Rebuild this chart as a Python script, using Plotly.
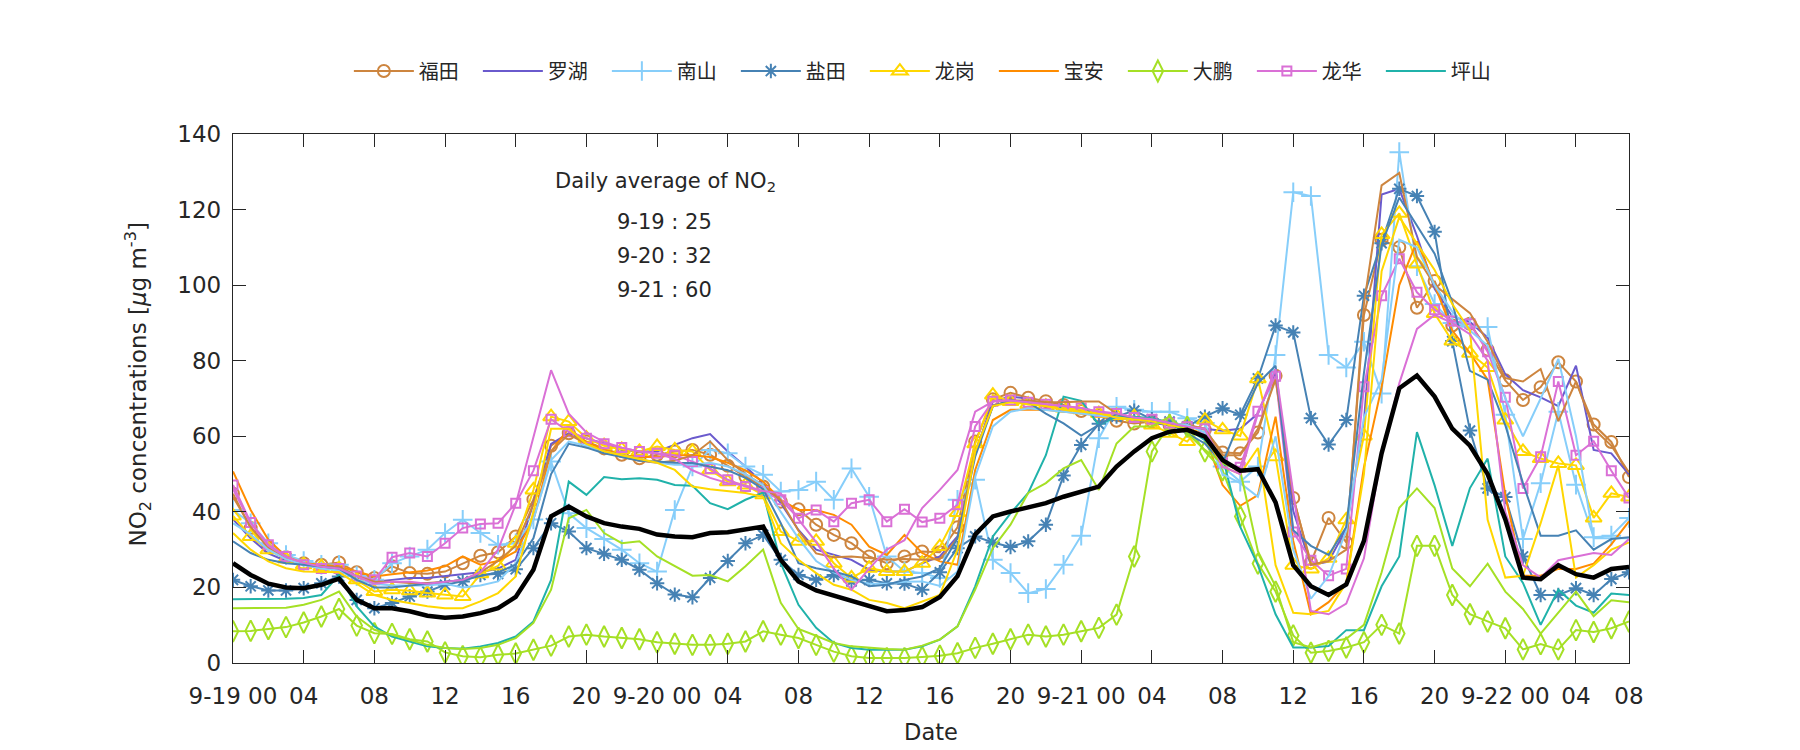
import plotly.graph_objects as go

# ---------------- data (hourly, 9-19 00:00 ... 9-22 07:00) ----------------
futian = [44.8, 35.7, 30.8, 28.0, 26.4, 26.0, 26.6, 24.0, 22.5, 25.6,
          23.8, 23.6, 24.2, 26.4, 28.4, 29.3, 33.5, 43.3, 57.5, 60.8,
          58.6, 56.8, 55.1, 54.2, 55.1, 56.0, 56.4, 55.1, 52.2, 49.3,
          46.7, 42.7, 40.7, 36.6, 33.9, 31.7, 28.2, 26.4, 28.2, 29.5,
          29.3, 35.9, 58.6, 69.8, 71.5, 70.2, 69.3, 68.3, 66.7, 65.5,
          64.1, 63.4, 63.9, 63.0, 62.6, 61.7, 55.7, 55.5, 61.0, 76.0,
          43.7, 26.6, 38.4, 31.9, 92.1, 112.0, 110.0, 94.0, 101.1, 89.3,
          89.8, 82.9, 74.8, 69.6, 73.0, 79.6, 74.5, 63.1, 58.5, 49.2]
luohu = [38, 33, 29, 27, 26, 25.5, 25, 23, 21.5, 22,
         22.5, 22.5, 23, 23.5, 24, 25, 27.3, 42.3, 58, 60.8,
         59.5, 58.1, 56.4, 56, 56, 57.7, 59.5, 60.6, 56, 52,
         47.6, 42.3, 35.2, 30, 28.6, 27.3, 24.7, 24.2, 24.2, 26.4,
         28.2, 33.5, 55.5, 69.2, 70.5, 70, 68, 67.5, 67, 66,
         65, 64.5, 63.5, 63, 62.5, 62, 61.5, 62, 66, 77,
         40.2, 25.9, 26.8, 35.6, 63.9, 124, 125.5, 113, 99, 91.7,
         90.3, 86.1, 76.4, 72.2, 70.3, 68, 78.7, 56.4, 55.5, 49.9]
nanshan = [40.5, 37, 31.7, 28.6, 27, 26, 26, 23, 22, 26.4,
           28.2, 30, 34.4, 37.9, 34.4, 31.3, 31.7, 38, 53.3, 39.6,
           35.7, 32.8, 30, 26.4, 24.2, 40.5, 52, 56.4, 55.5, 52,
           49.8, 45.4, 45.8, 48, 43.2, 51.5, 44, 28.2, 24.2, 23.8,
           22.5, 43.2, 48.5, 27.3, 23.8, 18.5, 19.6, 26, 33.7, 59.5,
           67.8, 67, 66.5, 66.5, 64.8, 63.5, 52, 48, 52, 81.5,
           124.6, 123.6, 81.5, 78.2, 85, 71.3, 135.2, 105, 95, 90,
           89, 88.9, 65.7, 32.8, 47.6, 66.5, 47.2, 33.3, 33.7, 38.4]
yantian = [22, 20.3, 19.2, 19.2, 19.8, 21.1, 22.9, 16.7, 14.5, 15.9,
           17.6, 18.9, 20.7, 21.6, 23.3, 23.6, 24.8, 30.4, 37, 34.8,
           30.4, 28.9, 27.3, 24.7, 21.1, 18.1, 17.4, 22.5, 27, 31.7,
           33.9, 27.3, 23.3, 22, 23.3, 21.6, 22, 21.1, 21, 19.4,
           24, 30.4, 33.5, 31.9, 30.7, 32.2, 36.6, 49.6, 57.7, 63.3,
           65.2, 66.8, 64.5, 63.9, 62.6, 65.2, 67.4, 65.7, 75.3, 89.3,
           87.5, 64.8, 57.8, 64.3, 97.2, 111.1, 125.5, 123.6, 114.1, 85.2,
           61.5, 46.2, 43.9, 28.2, 18, 18, 19.8, 18, 22.2, 24]
longgang = [38.9, 33.5, 30, 27.5, 26, 25.5, 25, 22, 18.9, 19.4,
            19.1, 18.5, 18, 17.6, 23.6, 25.7, 31.7, 45.8, 65.2, 63.9,
            59.5, 57.5, 56.5, 56, 57.3, 56.4, 56, 51.1, 48, 47.1,
            44.5, 34.8, 32.2, 32.2, 26.4, 22.5, 25.1, 24.2, 24.2, 26.4,
            30.8, 39.8, 58, 70.9, 69.2, 68.5, 68, 67.5, 67, 66,
            65.5, 65.2, 63, 60.8, 58.6, 64.3, 61.7, 60.1, 75.2, 54.6,
            25.9, 24.9, 27.7, 37.9, 60.1, 113.4, 119, 105.6, 92.5, 85.2,
            82, 78.2, 64.3, 56, 54.1, 52.8, 52.3, 38.4, 44.9, 43.9]
baoan = [50.7, 40.5, 32.6, 28.2, 26.4, 26, 25.6, 24.2, 22.9, 23.5,
         24, 24.5, 25.6, 28.2, 26, 27, 29.5, 38, 56, 62.1,
         58.5, 56.5, 55, 54.5, 54.5, 55, 55, 54.5, 53, 51,
         48, 43.2, 40.5, 40.5, 39.2, 36.6, 30.8, 28.6, 33.9, 29.1,
         26.9, 26, 51.1, 64.3, 67, 67.1, 67, 66.5, 66, 65.5,
         65, 64.5, 64, 63.5, 62.5, 60, 47.1, 41.6, 44.4, 65.2,
         32.3, 12.9, 16.1, 21.2, 51.8, 73, 100, 111.6, 100, 88,
         82, 75, 44.4, 23.1, 23.1, 24.9, 24.9, 26.3, 31.4, 37.5]
dapeng = [8.4, 8.5, 9, 9.5, 10.7, 12.3, 14.3, 9.9, 7.9, 7.7,
          6.3, 5.7, 2.8, 1.8, 1.5, 2.2, 2.5, 3.5, 4.6, 7,
          7.5, 7, 6.6, 6.3, 5.5, 5.1, 4.8, 4.8, 5.1, 5.7,
          8.4, 7.5, 6.6, 4.8, 3, 1.8, 1.3, 1.3, 1.3, 1.6,
          1.9, 2.6, 4, 5.1, 6.3, 7.5, 7, 7.5, 8.4, 9.3,
          12.8, 28.2, 56, 63, 62.5, 56, 51, 38.8, 26.3, 18.9,
          7.3, 2.7, 3.2, 4.1, 5.5, 10.1, 7.8, 31, 31, 18,
          12.9, 11, 9.2, 3.6, 5, 3.6, 8.7, 8.2, 9.2, 11]
longhua = [47.1, 37.2, 31.3, 28.2, 26, 25, 25, 23, 22, 28,
           29.1, 28.2, 31.7, 35.7, 36.8, 37, 42.3, 50.9, 64.5, 61.2,
           59.5, 58, 57, 56, 55.5, 55, 53.3, 51.5, 48.5, 46.7,
           45.4, 43.2, 38.3, 40.5, 37.4, 42.3, 43.2, 37.4, 40.7, 37.3,
           38.3, 41.9, 62.6, 69.3, 69.6, 69, 68.5, 68, 67.5, 66.5,
           66, 65, 64.5, 63.5, 62.5, 62, 53, 51.8, 66.6, 75.9,
           34.7, 27.2, 23.1, 24.9, 73.1, 97.2, 107, 98.1, 93.5, 90.5,
           89.8, 82.4, 70.3, 46.2, 54.6, 74.5, 55, 58.7, 50.9, 43.7]
pingshan = [16.9, 16.9, 16.9, 17, 17.2, 18, 23.3, 15, 9.7, 7,
            5.7, 4.4, 4, 3.8, 4.4, 5.3, 7, 11, 22, 48,
            44.5, 49.2, 48.6, 48.9, 48.5, 47.1, 46.9, 42.3, 40.7, 43.2,
            45.1, 26.4, 15.4, 9.3, 5.3, 4, 3.5, 3.5, 3.5, 4.4,
            6.2, 9.7, 20.3, 33.5, 39.6, 45, 55, 70.5, 69.4, 63,
            65.2, 65.2, 64.8, 63.4, 62.1, 59, 54.6, 36, 25.9, 12.9,
            4.1, 4.1, 4.5, 8.7, 8.7, 20.3, 28.2, 61.1, 47, 31,
            46.3, 54.1, 28.2, 21.2, 10.1, 19.4, 15.2, 13.3, 18.4, 18]

# second-site series of the same districts (drawn without markers, not in legend)
futian_b = [44, 36, 30.5, 27.5, 26, 25.5, 25.5, 23, 21.5, 21.5,
            21.2, 21.2, 21.5, 22, 24, 27, 31, 42, 56, 60.5,
            58, 56, 54.5, 53.5, 53, 53.5, 55, 58.6, 53.7, 50,
            47, 43, 35, 29, 28, 28.2, 27.8, 27.3, 27.5, 27.3,
            27.5, 33, 56, 68, 69.5, 69.5, 69, 69, 69.2, 69.2,
            66, 64.5, 64, 63.5, 63, 62, 55, 55, 62, 75,
            44, 26, 27, 30, 95, 126.4, 129.7, 107.4, 100, 96.3,
            92.6, 85, 75.4, 74.5, 77.8, 64, 74.5, 62, 57.5, 50.4]
nanshan_b = [37, 34, 30, 27.5, 26, 25, 24.5, 22, 21, 20.5,
             20.5, 20.5, 21, 20, 20.5, 21.6, 26.4, 38, 53.7, 58.6,
             57.5, 56, 55, 54, 53, 52.5, 52.5, 53, 52, 50,
             47, 40, 33, 27, 24, 22, 21, 21, 21.5, 21.6,
             20.4, 24.2, 49.3, 62.6, 66.5, 67.4, 67, 66.5, 66, 65.5,
             65, 64.5, 64, 63.5, 63, 61, 50, 47.6, 44, 60,
             30, 17, 23, 35, 65, 75, 112, 110, 100, 93,
             88, 84, 70, 60, 70, 80.5, 60, 33, 33, 33]
yantian_b = [32.2, 29.1, 27.3, 26.4, 26, 25.5, 25, 22, 20, 20,
             20.5, 21, 21.5, 22, 23, 24, 26, 33, 50, 58,
             57, 55.5, 54.5, 53.5, 53.3, 53, 52.9, 52, 51, 49,
             46, 37, 26.4, 25.1, 24.2, 22.9, 20.3, 20.7, 22, 22.9,
             25.1, 33, 54.6, 68, 69.5, 69, 66, 63.4, 60.2, 63,
             65.9, 64.5, 64, 63.5, 60.8, 58.1, 52.9, 64.3, 74, 78.7,
             35.1, 31, 28.6, 36, 76.8, 110.7, 123.2, 115.7, 108.3, 95.4,
             77.3, 75, 62.9, 47.6, 33.7, 33.7, 35.1, 30, 32.8, 33.3]
longgang_b = [34.4, 30, 26.9, 25.1, 24.2, 24, 24, 21, 18, 16.7,
              15.9, 15, 14.5, 14.5, 16.3, 18.5, 22.9, 40, 62, 62,
              58, 56, 55, 54, 53, 51.1, 46.7, 46, 45.5, 45,
              44, 31.7, 27.3, 23.8, 20.7, 19.4, 16.7, 15.9, 14.5, 16.3,
              18, 30, 56, 68, 69, 68.5, 68, 67, 66.5, 66,
              65, 64.5, 64, 63, 62, 60, 52, 50, 56.9, 25.9,
              13.3, 12.9, 13.8, 21.2, 50, 103.7, 118, 111, 104, 95,
              88, 37.9, 22.6, 23.1, 37, 52.3, 22.6, 25.9, 30, 31.9]
dapeng_b = [14.5, 14.5, 14.5, 14.6, 15.4, 16.7, 18.9, 12.3, 8.8, 7.5,
            6.3, 4.8, 4, 3.7, 4, 4.8, 6.6, 10.6, 19.4, 38.3,
            40.5, 34.4, 31.7, 32.2, 28.2, 25.6, 23.1, 23.3, 21.6, 25.6,
            30, 15.9, 9, 7.2, 5.3, 4.4, 4, 3.7, 3.5, 4.6,
            6.2, 9.7, 19.4, 30.4, 36.6, 45, 47.6, 51.5, 53.7, 45.8,
            58.1, 62.6, 62.6, 65.2, 60.8, 56.4, 52.9, 50.9, 29.6, 20.3,
            5.5, 4.1, 5.5, 6.4, 10.1, 24, 41.1, 46.2, 41, 25,
            20.3, 26.3, 18.9, 14.3, 7.8, 13.3, 18.9, 12.4, 16.6, 16.1]
longhua_b = [46, 37, 31, 28, 26.5, 25.5, 25, 23, 21, 21.5,
             21.5, 21, 21.5, 22, 24, 30, 42, 60, 77.5, 66,
             61, 58.5, 57, 56, 55.5, 54, 51, 49, 47.6, 47,
             45.5, 44.9, 38, 32, 25, 19.4, 25, 30, 32.5, 41,
             45.8, 51.1, 66.5, 69.2, 69.5, 69, 68.5, 68, 67.5, 66.5,
             66, 65, 64.5, 63.5, 62.5, 62, 52, 50, 66, 77.8,
             45, 13.8, 12.9, 15.7, 27.7, 55.5, 74, 88.4, 92.1, 90,
             87, 80, 40, 25.9, 22.6, 27.2, 28.2, 29.1, 28.6, 32.8]
average = [26.4, 23.3, 21, 20, 19.8, 20.7, 22.3, 16.7, 14.5, 14.5,
           13.7, 12.5, 12, 12.3, 13.2, 14.5, 17.5, 24.7, 38.8, 41.4,
           38.8, 37, 36.1, 35.5, 34, 33.5, 33.3, 34.4, 34.6, 35.2,
           36.1, 27.3, 21.6, 19.2, 17.8, 16.5, 15, 13.7, 14, 14.8,
           17.5, 23, 34, 38.8, 40.1, 41.2, 42.3, 44, 45.4, 46.7,
           52, 56, 59.5, 61.2, 61.7, 59.9, 53.7, 50.9, 51.3, 42.5,
           25.9, 20.3, 18, 20.8, 32.3, 55.5, 72.7, 76.1, 70.5, 62,
           57.5, 50, 38, 22.6, 22.2, 25.9, 23.5, 22.6, 24.9, 25.4]

names = ["福田", "罗湖", "南山", "盐田", "龙岗", "宝安", "大鹏", "龙华", "坪山"]
tick_vals = [0, 4, 8, 12, 16, 20, 24, 28, 32, 36, 40, 44, 48, 52, 56, 60, 64, 68, 72, 76, 79]
tick_text = ["9-19 00", "04", "08", "12", "16", "20", "9-20 00", "04", "08", "12", "16", "20",
             "9-21 00", "04", "08", "12", "16", "20", "9-22 00", "04", "08"]
daily_labels = ["9-19 : 25", "9-20 : 32", "9-21 : 60"]

# ---------------- styles ----------------
main_series = [
    (futian, "#CD853F", "circle-open", 12),
    (luohu, "#6A5ACD", None, 0),
    (nanshan, "#87CEFA", "cross-thin-open", 14),
    (yantian, "#4682B4", "asterisk-open", 12),
    (longgang, "#FFD700", "triangle-up-open", 14),
    (baoan, "#FF8C00", None, 0),
    (dapeng, "#A5E025", "diamond-tall-open", 15),
    (longhua, "#DA70D6", "square-open", 9),
    (pingshan, "#20B2AA", None, 0),
]
extra_series = [
    (futian_b, "#CD853F"), (nanshan_b, "#87CEFA"), (yantian_b, "#4682B4"),
    (longgang_b, "#FFD700"), (dapeng_b, "#A5E025"), (longhua_b, "#DA70D6"),
]

fig = go.Figure()
for (vals, col, sym, size), nm in zip(main_series, names):
    x = list(range(len(vals)))
    if sym:
        fig.add_trace(go.Scatter(x=x, y=vals, name=nm, mode="lines+markers",
                                 line=dict(color=col, width=2),
                                 marker=dict(symbol=sym, size=size, color=col,
                                             line=dict(color=col, width=2))))
    else:
        fig.add_trace(go.Scatter(x=x, y=vals, name=nm, mode="lines",
                                 line=dict(color=col, width=2)))
for vals, col in extra_series:
    fig.add_trace(go.Scatter(x=list(range(len(vals))), y=vals, mode="lines",
                             line=dict(color=col, width=2), showlegend=False,
                             hoverinfo="skip"))
fig.add_trace(go.Scatter(x=list(range(len(average))), y=average, mode="lines",
                         line=dict(color="black", width=4.5), showlegend=False))

font_main = "DejaVu Sans"
txt_col = "#262626"
fig.add_annotation(x=24.5, y=127.2, xref="x", yref="y", showarrow=False,
                   text="Daily average of NO<sub>2</sub>",
                   font=dict(family=font_main, size=21, color=txt_col))
for i, t in enumerate(daily_labels):
    fig.add_annotation(x=24.4, y=116.6 - i * 8.95, xref="x", yref="y", showarrow=False,
                       text=t, font=dict(family=font_main, size=21, color=txt_col))

# y-axis title as a rotated annotation (placed slightly above the axis centre as in the reference)
fig.add_annotation(x=-0.0682, y=0.526, xref="paper", yref="paper", showarrow=False,
                   textangle=-90, xanchor="center", yanchor="middle",
                   text="NO<sub>2</sub> concentrations [<i>μ</i>g m<sup>-3</sup>]",
                   font=dict(family=font_main, size=23, color=txt_col))

axis_common = dict(showline=True, linecolor=txt_col, linewidth=1.3, mirror="ticks",
                   ticks="inside", ticklen=13, tickwidth=1.3, tickcolor=txt_col,
                   showgrid=False, zeroline=False, automargin=False,
                   tickfont=dict(family=font_main, size=23, color=txt_col))
fig.update_xaxes(range=[0, 79], tickmode="array", tickvals=tick_vals, ticktext=tick_text,
                 title=dict(text="Date", font=dict(family=font_main, size=22.5, color=txt_col),
                            standoff=16),
                 ticklabelstandoff=12, **axis_common)
fig.update_yaxes(range=[0, 140], tickmode="array", tickvals=list(range(0, 141, 20)),
                 ticklabelstandoff=6, **axis_common)

# the page body adds an 8 px offset, so margins are shifted to compensate
fig.update_layout(
    width=1800, height=750,
    margin=dict(l=225, r=179, t=126, b=95, autoexpand=False),
    paper_bgcolor="white", plot_bgcolor="white",
    showlegend=True,
    legend=dict(orientation="h", x=0.083, xanchor="left", y=1.119, yanchor="middle",
                itemwidth=60, entrywidth=54, entrywidthmode="pixels",
                font=dict(family="Noto Sans CJK SC", size=20, color=txt_col),
                bgcolor="rgba(0,0,0,0)"),
)
fig.write_html("out.html")
